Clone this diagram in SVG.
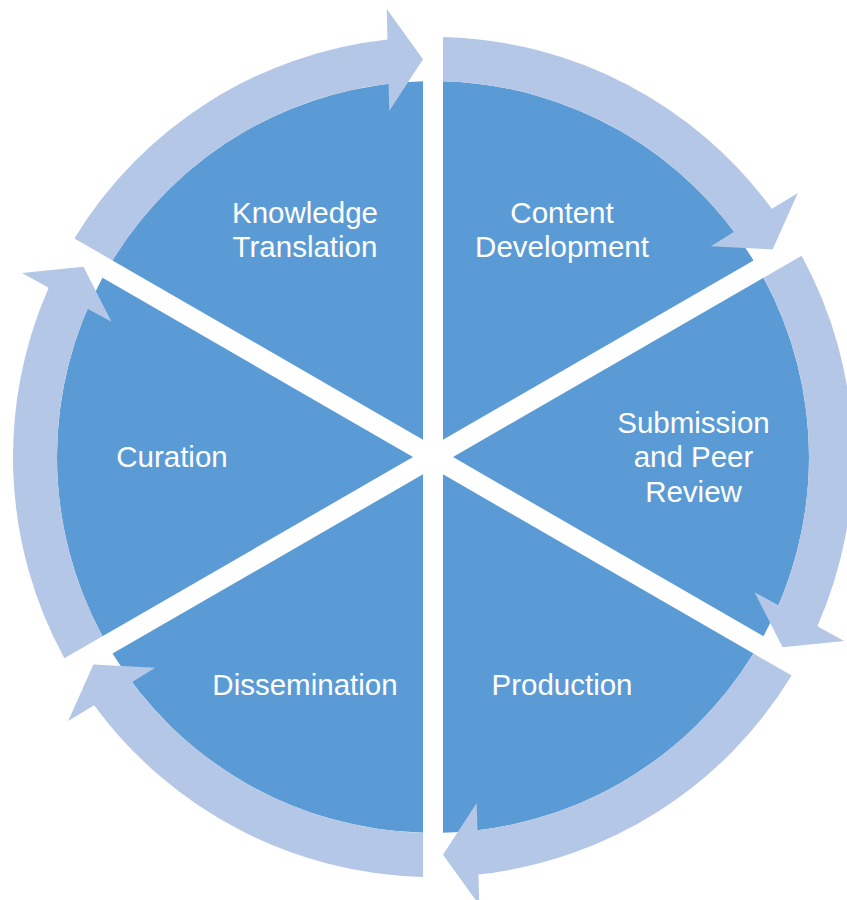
<svg xmlns="http://www.w3.org/2000/svg" width="847" height="900" viewBox="0 0 847 900">
  <style>
    .wedge { fill: #5B9BD5; }
    .arrow { fill: #B4C7E7; }
    .label { font-family: "Liberation Sans", Arial, sans-serif; font-size: 29.5px; fill: #FFFFFF; text-anchor: middle; }
  </style>
  <rect x="0" y="0" width="847" height="900" fill="#FFFFFF"/>

  <!-- Six pie wedges around (433,457), r=376, separated by 20px gaps -->
  <g id="node-knowledge-translation">
    <path class="wedge" d="M423,439.68 L423,81.13 A376,376 0 0 0 112.49,260.41 Z"/>
    <text class="label" x="305" y="223">Knowledge</text>
    <text class="label" x="305" y="256.5">Translation</text>
  </g>
  <g id="node-content-development">
    <path class="wedge" d="M443,439.68 L753.51,260.41 A376,376 0 0 0 443,81.13 Z"/>
    <text class="label" x="562" y="223">Content</text>
    <text class="label" x="562" y="256.5">Development</text>
  </g>
  <g id="node-submission-peer-review">
    <path class="wedge" d="M453,457 L763.51,636.27 A376,376 0 0 0 763.51,277.73 Z"/>
    <text class="label" x="693.5" y="433">Submission</text>
    <text class="label" x="693.5" y="467">and Peer</text>
    <text class="label" x="693.5" y="501.5">Review</text>
  </g>
  <g id="node-production">
    <path class="wedge" d="M443,474.32 L443,832.87 A376,376 0 0 0 753.51,653.59 Z"/>
    <text class="label" x="562" y="695">Production</text>
  </g>
  <g id="node-dissemination">
    <path class="wedge" d="M423,474.32 L112.49,653.59 A376,376 0 0 0 423,832.87 Z"/>
    <text class="label" x="305" y="695">Dissemination</text>
  </g>
  <g id="node-curation">
    <path class="wedge" d="M413,457 L102.49,277.73 A376,376 0 0 0 102.49,636.27 Z"/>
    <text class="label" x="172" y="467">Curation</text>
  </g>

  <!-- Clockwise block-arc arrows in the outer ring (r 376..420) -->
  <g id="connectors">
    <path id="arrow-curation-to-knowledge" class="arrow" d="M74.37,238.40 A420,420 0 0 1 387.50,39.47 L386.73,9.02 L423.00,59.13 L389.29,110.99 L388.61,83.63 A376,376 0 0 0 112.49,260.41 Z"/>
    <path id="arrow-knowledge-to-content" class="arrow" d="M443,37.12 A420,420 0 0 1 771.84,208.83 L797.83,192.94 L772.57,249.40 L710.80,246.14 L734.15,231.87 A376,376 0 0 0 443,81.13 Z"/>
    <path id="arrow-content-to-submission" class="arrow" d="M801.63,255.72 A420,420 0 0 1 817.34,626.36 L844.10,640.92 L782.57,647.28 L754.51,592.15 L778.55,605.24 A376,376 0 0 0 763.51,277.73 Z"/>
    <path id="arrow-submission-to-production" class="arrow" d="M791.63,675.60 A420,420 0 0 1 478.50,874.53 L479.27,904.98 L443.00,854.87 L476.71,803.01 L477.40,830.37 A376,376 0 0 0 753.51,653.59 Z"/>
    <path id="arrow-production-to-dissemination" class="arrow" d="M423,876.88 A420,420 0 0 1 94.16,705.17 L68.17,721.06 L93.43,664.60 L155.20,667.86 L131.85,682.13 A376,376 0 0 0 423,832.87 Z"/>
    <path id="arrow-dissemination-to-curation" class="arrow" d="M64.37,658.28 A420,420 0 0 1 48.66,287.64 L21.90,273.08 L83.43,266.72 L111.49,321.85 L87.45,308.76 A376,376 0 0 0 102.49,636.27 Z"/>
  </g>
</svg>
